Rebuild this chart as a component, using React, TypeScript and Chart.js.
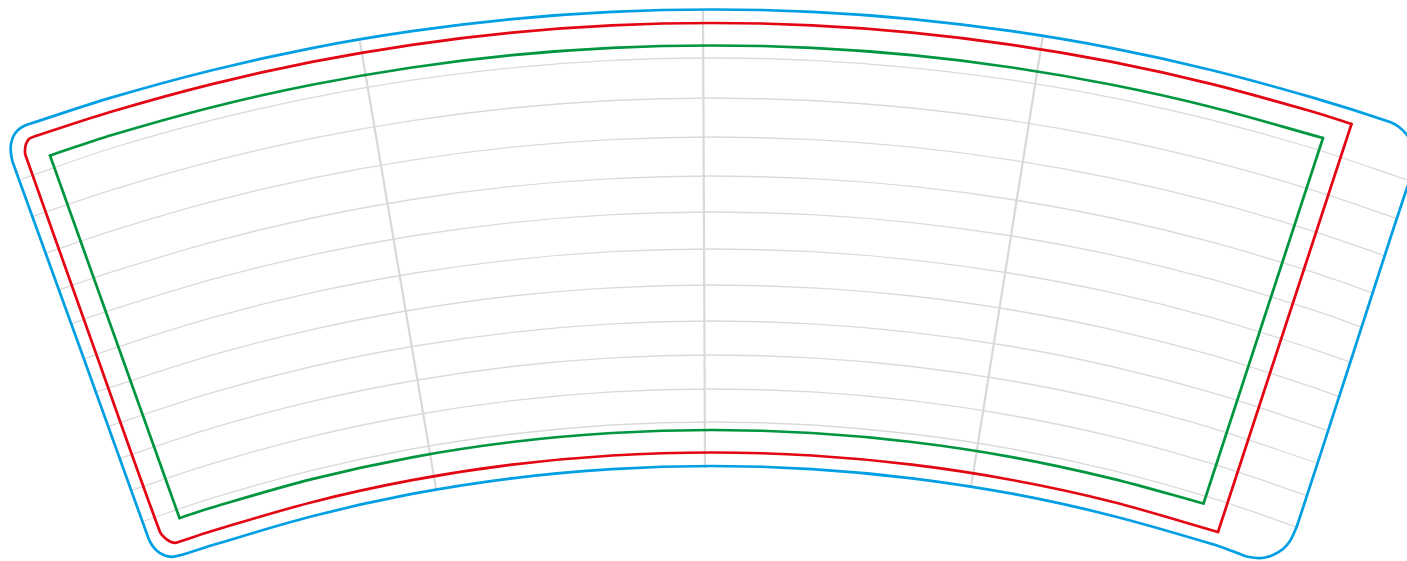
import React, { useEffect, useRef } from "react";
import { Chart, registerables } from "chart.js";

Chart.register(...registerables);

type Pair = [number, number];

const blueOutline: Pair[] = [
  [30, 123.8], [112, 97.4], [212, 70.2], [312, 48.1], [412, 31.2], [512, 19.1], [612, 11.9], [712, 9.5],
  [812, 11.9], [912, 19.1], [1012, 31.2], [1112, 48.1], [1212, 70.2], [1312, 97.4], [1390, 122],
  [1399, 127], [1407, 135], [1412, 145], [1414, 160], [1411, 176], [1407, 188], [1393, 230], [1345.5, 377],
  [1298, 523], [1294, 533], [1290, 541], [1283, 549], [1273, 555], [1265, 557.5], [1257, 558], [1248, 556.8], [1240, 554],
  [1212, 544], [1112, 515.7], [1012, 493.7], [912, 478.3], [812, 469.1], [712, 466], [612, 469.1], [512, 478.3],
  [412, 493.9], [312, 516.2], [212, 545.3], [180, 555.3], [172, 556.8], [164, 555.3], [156, 550], [151, 543.5], [148, 537],
  [80, 348], [13, 163], [11.5, 157], [10.7, 150], [11, 144], [13.5, 136], [18, 130], [24, 126], [30, 123.8],
];

const redCurve: Pair[] = [
  [1351.5, 124], [1312, 111.5], [1212, 84.1], [1112, 61.9], [1012, 44.8], [912, 32.6], [812, 25.4], [712, 23],
  [612, 25.4], [512, 32.6], [412, 44.8], [312, 61.9], [212, 84.1], [112, 111.5], [33, 137], [29, 139], [26, 144],
  [25, 150], [25.2, 154], [26.5, 158], [93, 345], [160, 532], [165, 538], [170, 541.5], [175, 542.8], [178, 542.2], [212, 531],
  [312, 502.2], [412, 480.2], [512, 464.7], [612, 455.5], [712, 452.5], [812, 455.5], [912, 464.7], [1012, 480],
  [1112, 501.7], [1218, 532],
];
const redRightEdge: Pair[] = [[1351.5, 124], [1218, 532]];

const greenTop: Pair[] = [
  [50, 155.5], [112, 135], [212, 107.2], [312, 84.8], [412, 67.5], [512, 55.2], [612, 47.9], [712, 45.5],
  [812, 47.9], [912, 55.2], [1012, 67.5], [1112, 84.8], [1212, 107.2], [1323, 138],
];
const greenBottom: Pair[] = [
  [179.5, 518], [212, 507.5], [312, 479.1], [412, 457.3], [512, 442], [612, 433], [712, 430], [812, 433],
  [912, 442], [1012, 457.1], [1112, 478.6], [1203.5, 503.5],
];
const greenLeftEdge: Pair[] = [[50, 155.5], [179.5, 518]];
const greenRightEdge: Pair[] = [[1323, 138], [1203.5, 503.5]];

const gridColumns: Pair[][] = [
  [[360, 42], [436, 489]],
  [[703, 10], [705, 467]],
  [[1043, 35], [971, 487]],
];

const gridArcs: Pair[][] = [
  [[22, 179], [112, 148], [212, 120.1], [312, 97.6], [412, 80.1], [512, 67.8], [612, 60.4], [712, 58], [812, 60.4], [912, 67.8], [1012, 80.1], [1112, 97.6], [1212, 120.1], [1312, 148], [1407, 180]],
  [[33, 216.4], [112, 189.9], [212, 161.4], [312, 138.4], [412, 120.6], [512, 108], [612, 100.5], [712, 98], [812, 100.5], [912, 108], [1012, 120.6], [1112, 138.4], [1212, 161.4], [1312, 189.9], [1397, 218.6]],
  [[46, 253], [112, 230.8], [212, 201.7], [312, 178.2], [412, 160.1], [512, 147.2], [612, 139.6], [712, 137], [812, 139.6], [912, 147.2], [1012, 160.1], [1112, 178.2], [1212, 201.7], [1312, 230.8], [1385, 255.8]],
  [[59, 290], [112, 271.9], [212, 242.1], [312, 218], [412, 199.5], [512, 186.4], [612, 178.6], [712, 176], [812, 178.6], [912, 186.4], [1012, 199.5], [1112, 218], [1212, 242.1], [1312, 271.9], [1373, 293]],
  [[71, 324], [112, 309.7], [212, 279.4], [312, 254.9], [412, 236], [512, 222.6], [612, 214.6], [712, 212], [812, 214.6], [912, 222.6], [1012, 236], [1112, 254.9], [1212, 279.4], [1312, 309.7], [1361, 326.8]],
  [[84, 359], [112, 348.8], [212, 317.7], [312, 292.7], [412, 273.5], [512, 259.8], [612, 251.7], [712, 249], [812, 251.7], [912, 259.8], [1012, 273.5], [1112, 292.7], [1212, 317.7], [1312, 348.8], [1349, 361.9]],
  [[96, 392], [212, 355.2], [312, 329.6], [412, 310], [512, 296], [612, 287.8], [712, 285], [812, 287.8], [912, 296], [1012, 310], [1112, 329.6], [1212, 355.2], [1312, 386.9], [1338, 396.2]],
  [[108, 426.5], [212, 392.7], [312, 366.5], [412, 346.5], [512, 332.3], [612, 323.8], [712, 321], [812, 323.8], [912, 332.3], [1012, 346.5], [1112, 366.5], [1212, 392.7], [1312, 425.1], [1327, 430.5]],
  [[120, 458.3], [212, 428.1], [312, 401.4], [412, 381], [512, 366.5], [612, 357.9], [712, 355], [812, 357.9], [912, 366.5], [1012, 381], [1112, 401.4], [1212, 428.1], [1316, 462.7]],
  [[131, 490.5], [212, 463.7], [312, 436.4], [412, 415.5], [512, 400.7], [612, 391.9], [712, 389], [812, 391.9], [912, 400.7], [1012, 415.5], [1112, 436.4], [1212, 463.7], [1306, 495.2]],
  [[142, 521.7], [212, 498.2], [312, 470.4], [412, 449], [512, 434], [612, 425], [712, 422], [812, 425], [912, 434], [1012, 449], [1112, 470.4], [1212, 498.2], [1296, 526.7]],
];

const BLUE = "#009fe3";
const RED = "#e30613";
const GREEN = "#009640";
const GRID_ARC = "#dadada";
const GRID_COLUMN = "#d9d9d9";

function stroke(points: Pair[], color: string, width: number) {
  return {
    data: points.map(([x, y]) => ({ x, y })),
    showLine: true,
    borderColor: color,
    backgroundColor: color,
    borderWidth: width,
    pointRadius: 0,
    tension: 0.33,
    capBezierPoints: false,
    borderCapStyle: "round" as const,
    borderJoinStyle: "round" as const,
    fill: false,
  };
}

export default function App() {
  const ref = useRef<HTMLCanvasElement | null>(null);

  useEffect(() => {
    const canvas = ref.current;
    if (!canvas) return;
    const chart = new Chart(canvas, {
      type: "line",
      data: {
        datasets: [
          stroke(greenTop, GREEN, 2.7),
          stroke(greenBottom, GREEN, 2.7),
          stroke(greenLeftEdge, GREEN, 2.7),
          stroke(greenRightEdge, GREEN, 2.7),
          stroke(redCurve, RED, 2.7),
          stroke(redRightEdge, RED, 2.7),
          stroke(blueOutline, BLUE, 2.7),
          ...gridColumns.map((c) => stroke(c, GRID_COLUMN, 2.2)),
          ...gridArcs.map((a) => stroke(a, GRID_ARC, 1.3)),
        ],
      },
      options: {
        animation: false,
        responsive: false,
        devicePixelRatio: 1,
        layout: { padding: 0 },
        plugins: { legend: { display: false }, tooltip: { enabled: false }, title: { display: false } },
        scales: {
          x: { type: "linear", min: 0, max: 1407, display: false },
          y: { type: "linear", min: 0, max: 561, reverse: true, display: false },
        },
      },
    });
    return () => chart.destroy();
  }, []);

  return (
    <div style={{ position: "fixed", left: 0, top: 0, width: 1407, height: 561, background: "#ffffff" }}>
      <canvas ref={ref} width={1407} height={561} style={{ display: "block" }} />
    </div>
  );
}
